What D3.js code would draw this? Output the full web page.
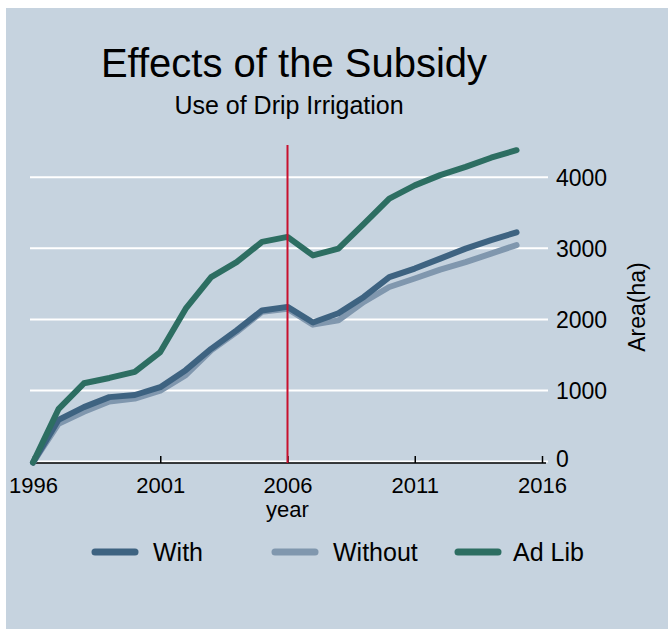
<!DOCTYPE html>
<html>
<head>
<meta charset="utf-8">
<script src="https://cdn.jsdelivr.net/npm/d3@7"></script>
<style>
  html, body { margin: 0; padding: 0; background: #ffffff; }
  svg { display: block; font-family: "Liberation Sans", Arial, sans-serif; }
</style>
</head>
<body>
<svg id="chart" width="668" height="629"></svg>
<script>
const years = [1996,1997,1998,1999,2000,2001,2002,2003,2004,2005,2006,2007,2008,2009,2010,2011,2012,2013,2014,2015];
const withSubsidy    = [0,600,780,920,950,1060,1300,1600,1860,2140,2190,1970,2100,2330,2610,2730,2870,3010,3130,3240];
const withoutSubsidy = [0,545,715,860,900,1010,1230,1580,1835,2120,2165,1940,2000,2260,2470,2590,2715,2820,2940,3060];
const adLib          = [0,750,1115,1190,1275,1555,2165,2610,2820,3105,3175,2915,3010,3360,3715,3900,4045,4160,4290,4395];
const xTicks = [1996,2001,2006,2011,2016];
const yTicks = [0,1000,2000,3000,4000];
const seriesNames = ["With","Without","Ad Lib"];
const seriesColors = ["#3e6381","#8097ae","#2d6e62"];
const policyYear = 2006;

const svg = d3.select("#chart");
svg.append("rect").attr("x",6).attr("y",8).attr("width",662).attr("height",621).attr("fill","#c6d3df");

const x = d3.scaleLinear().domain([1996,2016]).range([33,542]);
const y = d3.scaleLinear().domain([0,4000]).range([462.5,178.3]);

// gridlines
svg.append("g").selectAll("line").data(yTicks).join("line")
  .attr("x1",30).attr("x2",548)
  .attr("y1",d=>y(d)-1).attr("y2",d=>y(d)-1)
  .attr("stroke","#ffffff").attr("stroke-width",2);

// y axis on right (no domain line)
const yAxis = d3.axisRight(y).tickValues(yTicks).tickSize(0).tickPadding(0).tickFormat(d3.format("d"));
const gy = svg.append("g").attr("transform","translate(556,0)").call(yAxis);
gy.select(".domain").remove();
gy.selectAll("text").attr("font-size",23).attr("fill","#000").attr("font-family","Liberation Sans, Arial, sans-serif")
  .attr("dy",d=>d===0?"0.18em":"0.3em");

svg.append("text").attr("transform","translate(645,307) rotate(-90)")
  .attr("text-anchor","middle").attr("font-size",23).text("Area(ha)");

// x axis
const xAxis = d3.axisBottom(x).tickValues(xTicks).tickSize(-7).tickPadding(14).tickFormat(d3.format("d"));
const gx = svg.append("g").attr("transform","translate(0,463)").call(xAxis);
gx.select(".domain").attr("d","M30,0H546").attr("stroke","#000").attr("stroke-width",1.5);
gx.selectAll(".tick line").attr("stroke","#000").attr("stroke-width",1.5);
gx.selectAll("text").attr("font-size",22).attr("fill","#000").attr("font-family","Liberation Sans, Arial, sans-serif");

svg.append("text").attr("x",x(2006)).attr("y",517).attr("text-anchor","middle").attr("font-size",22).text("year");

// series lines
const series = [withSubsidy, withoutSubsidy, adLib];
const line = d3.line().x((d,i)=>x(years[i])).y(d=>y(d));
const drawOrder = [1,0,2];
drawOrder.forEach(k=>{
  svg.append("path").datum(series[k]).attr("d",line)
    .attr("fill","none").attr("stroke",seriesColors[k]).attr("stroke-width",6)
    .attr("stroke-linejoin","round").attr("stroke-linecap","round");
});

// policy line
svg.append("line").attr("x1",x(policyYear)).attr("x2",x(policyYear))
  .attr("y1",145).attr("y2",463).attr("stroke","#c8102e").attr("stroke-width",2);

// title
svg.append("text").attr("x",294).attr("y",77).attr("text-anchor","middle").attr("font-size",40).text("Effects of the Subsidy");
svg.append("text").attr("x",289).attr("y",114).attr("text-anchor","middle").attr("font-size",25).text("Use of Drip Irrigation");

// legend
const legX = [92,272,455];
const lg = svg.append("g");
seriesNames.forEach((n,i)=>{
  lg.append("line").attr("x1",legX[i]+3).attr("x2",legX[i]+43).attr("y1",552).attr("y2",552)
    .attr("stroke",seriesColors[i]).attr("stroke-width",7).attr("stroke-linecap","round");
  lg.append("text").attr("x",legX[i]+ (i===2?58:61)).attr("y",561).attr("font-size",25).text(n);
});
</script>
</body>
</html>
